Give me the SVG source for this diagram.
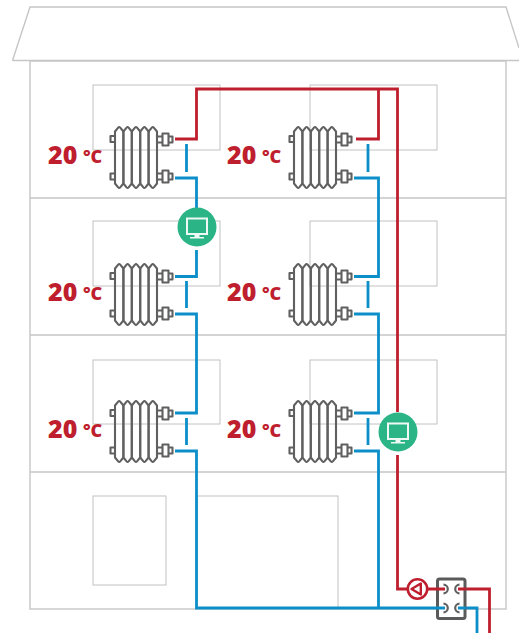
<svg xmlns="http://www.w3.org/2000/svg" width="519" height="633" viewBox="0 0 519 633">
<style>
.b{fill:none;stroke:#c6c6c6;stroke-width:1.4}
.w{fill:none;stroke:#c2c2c2;stroke-width:1}
.red{fill:none;stroke:#be1e2d;stroke-width:2.8}
.blue{fill:none;stroke:#0c8fc9;stroke-width:2.8}
.g{fill:none;stroke:#606060;stroke-width:2.1;stroke-linejoin:round}
.t{font-family:"Open Sans","Noto Sans",sans-serif;font-weight:800;fill:#be1e2d}
.big{font-size:25px}
.small{font-size:18px}
</style>
<defs>
<path id="lobe" class="g" d="M115 131.500L118.200 127.600Q119.200 126.500 120.200 127.600L123.400 131.500V183.500L120.200 187.400Q119.200 188.500 118.200 187.400L115 183.500Z"/>
<g id="rad">
<use href="#lobe"/><use href="#lobe" x="8.400"/><use href="#lobe" x="16.800"/><use href="#lobe" x="25.200"/><use href="#lobe" x="33.600"/>
<path class="g" d="M115 136h-4.500v6h4.500M115 173.500h-4.500v6h4.500"/>
<path class="g" d="M157 136.500h5.500v-3h6v3h4v6h-4v3h-6v-3h-5.500M162.500 133.500v12M168.500 133.500v12M157 173.500h5.500v-3h6v3h4v6h-4v3h-6v-3h-5.500M162.500 170.500v12M168.500 170.500v12"/>
</g>
<g id="mon">
<circle cx="0" cy="0" r="19.500" fill="#2bb587"/>
<rect x="-10" y="-8.500" width="20" height="15.500" fill="#2bb587" stroke="#eef9f5" stroke-width="2"/>
<path d="M-2.500 7.500h5v2.500h-5zM-7 10h14v1.600h-14z" fill="#eef9f5"/>
</g>
</defs>
<g id="house">
<path class="b" d="M12.500 60.500L30 7H506L519 48"/>
<path class="b" d="M12.500 60.500H519"/>
<rect class="b" x="30" y="61" width="476" height="548"/>
<path class="b" d="M30 198H506M30 335H506M30 472H506"/>
<rect class="w" x="93" y="85" width="127" height="65"/>
<rect class="w" x="310" y="85" width="127" height="65"/>
<rect class="w" x="93" y="221" width="127" height="65"/>
<rect class="w" x="310" y="221" width="127" height="65"/>
<rect class="w" x="93" y="360" width="127" height="64"/>
<rect class="w" x="310" y="360" width="127" height="64"/>
<rect class="w" x="93" y="496" width="73" height="89"/>
<rect class="w" x="197" y="496" width="141" height="112"/>
</g>
<g id="connectors">
<path class="red" d="M175 139H196.500V89H397.500V412M397.500 455V589H408M378.500 89V139H356M458 589H489.500V633"/>
<path class="blue" d="M175 178H196.500V208M196.500 250V276.500H175M175 314H196.500V413H175M175 451H196.500V608H445M354 178H378.500V276.500H354M354 314H378.500V413H354M354 451H378.500V608M458 608H477V633"/>
<path class="blue" d="M186.500 144V172M186.500 281V308M186.500 418V445M368 144V172M368 281V308M368 418V445"/>
</g>
<g id="radiator-1"><use href="#rad"/><text class="t big" x="48" y="163.500">20</text><text class="t small" x="83" y="163.300">°C</text></g>
<g id="radiator-2"><use href="#rad" x="179"/><text class="t big" x="227" y="163.500">20</text><text class="t small" x="262" y="163.300">°C</text></g>
<g id="radiator-3"><use href="#rad" y="137"/><text class="t big" x="48" y="300.500">20</text><text class="t small" x="83" y="300.300">°C</text></g>
<g id="radiator-4"><use href="#rad" x="179" y="137"/><text class="t big" x="227" y="300.500">20</text><text class="t small" x="262" y="300.300">°C</text></g>
<g id="radiator-5"><use href="#rad" y="274"/><text class="t big" x="48" y="437.500">20</text><text class="t small" x="83" y="437.300">°C</text></g>
<g id="radiator-6"><use href="#rad" x="179" y="274"/><text class="t big" x="227" y="437.500">20</text><text class="t small" x="262" y="437.300">°C</text></g>
<g id="monitor-1"><use href="#mon" x="197" y="227"/></g>
<g id="monitor-2"><use href="#mon" x="398" y="432"/></g>
<g id="pump">
<circle cx="417.500" cy="589" r="9.700" fill="#fff" stroke="#be1e2d" stroke-width="2.600"/>
<path d="M411.500 589L420.800 583.500V594.500Z" fill="none" stroke="#be1e2d" stroke-width="2.400" stroke-linejoin="round"/>
</g>
<g id="manifold">
<rect x="437.500" y="579" width="27.500" height="39.500" rx="2" fill="#fff" stroke="#5a5a5a" stroke-width="3"/>
<path class="red" d="M427 589H445M458 589H466"/>
<path class="blue" d="M436 608H445M458 608H466"/>
<path d="M443.500 584.700a4.300 4.300 0 0 1 0 8.600M443.500 603.700a4.300 4.300 0 0 1 0 8.600M459.500 584.700a4.300 4.300 0 0 0 0 8.600M459.500 603.700a4.300 4.300 0 0 0 0 8.600" fill="none" stroke="#606060" stroke-width="2.200"/>
</g>
</svg>
